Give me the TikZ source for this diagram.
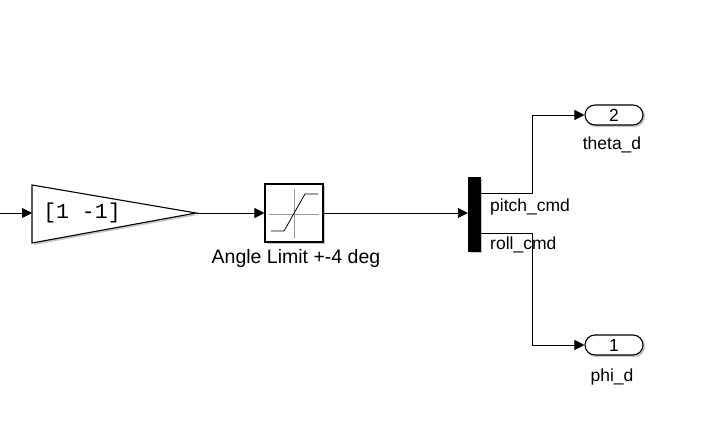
\documentclass[tikz,border=0pt]{standalone}
\usepackage{fontspec}
\setmainfont{Liberation Sans}
\newfontfamily\monof{Liberation Mono}
\usetikzlibrary{arrows.meta}
\tikzset{
  sig/.style={draw=black, line width=0.9pt, -{Triangle[length=10pt,width=10pt]}},
  blk/.style={draw=black, line width=1.1pt, fill=white, inner sep=0pt},
  lbl/.style={font=\fontsize{17.5}{20}\selectfont, inner sep=0pt},
  biglbl/.style={font=\fontsize{19.5}{22}\selectfont, inner sep=0pt},
}
\begin{document}
\begin{tikzpicture}[x=1pt,y=-1pt]
\useasboundingbox (0,0) rectangle (702,444);
% gain
\coordinate (gin) at (32,213);
\coordinate (gout) at (196,213);
\coordinate (src) at (0,213);
\fill[black!22] (34,187) -- (198,215) -- (34,245) -- cycle;
\draw[line width=1.1pt, fill=white] (32,185) -- (gout) -- (32,243) -- cycle;
\node[inner sep=0pt, font=\monof\fontsize{21.5}{24}\selectfont] (gtext) at (82,213) {[1 -1]};
\draw[sig] (src) -- (gin);
% saturation
\fill[black!22] (267,186) rectangle (325,244);
\node[blk, minimum width=58pt, minimum height=58pt] (sat) at (294,213) {};
\draw[black!40, line width=0.6pt] (269,214) -- (319,214);
\draw[black!40, line width=0.6pt] (294,189) -- (294,238);
\draw[black, line width=0.8pt] (271,231) -- (284,231) -- (305,194) -- (318,194);
\node[biglbl] (satlbl) at (296,258) {Angle Limit +-4 deg};
\draw[sig] (gout) -- (sat.west);
% mux
\fill[black!22] (470,179) rectangle (482,253);
\node[draw=black, fill=black, minimum width=12pt, minimum height=74pt, inner sep=0pt] (mux) at (474,214) {};
\draw[sig] (sat.east) -- (mux.west |- sat.east);
\coordinate (m1) at (480,193);
\coordinate (m2) at (480,233);
\node[lbl, anchor=west] (pl) at (490,207) {pitch\_cmd};
\node[lbl, anchor=west] (rl) at (490,245) {roll\_cmd};
% outports
\fill[black!22, rounded corners=10pt] (586,106) rectangle (645,127);
\node[blk, minimum width=58pt, minimum height=20pt, rounded corners=10pt] (out2) at (614,115) {};
\node[lbl] at (out2) {2};
\node[lbl] (th) at (612,145) {theta\_d};
\fill[black!22, rounded corners=10pt] (586,336) rectangle (645,357);
\node[blk, minimum width=58pt, minimum height=20pt, rounded corners=10pt] (out1) at (614,345) {};
\node[lbl] at (out1) {1};
\node[lbl] (ph) at (612,377) {phi\_d};
\draw[sig] (m1) -- (532,193) |- (out2.west);
\draw[sig] (m2) -- (532,233) |- (out1.west);
\end{tikzpicture}
\end{document}
